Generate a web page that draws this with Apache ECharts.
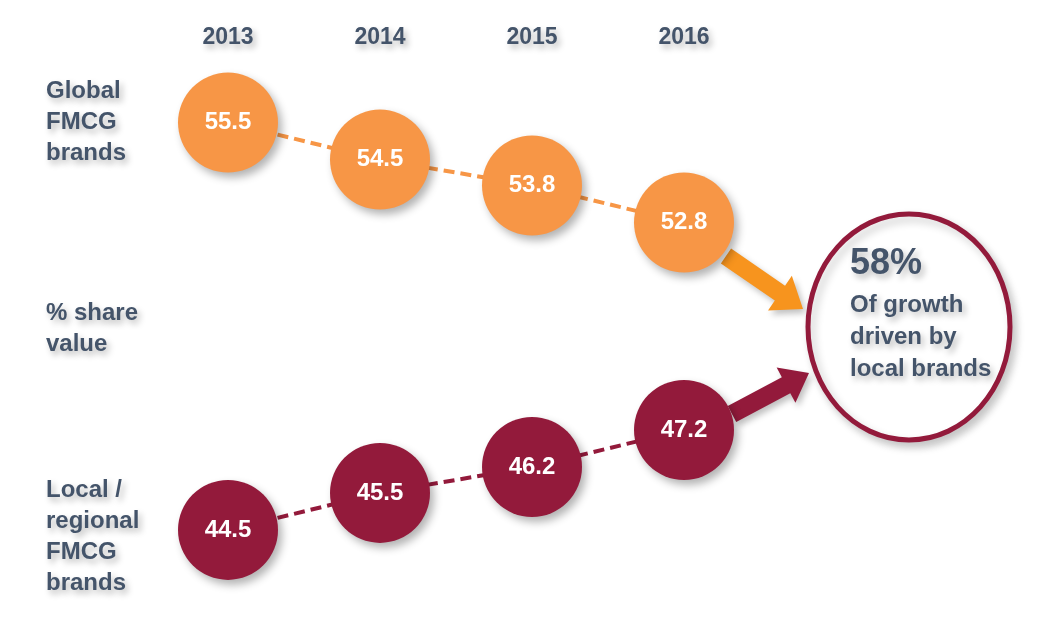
<!DOCTYPE html>
<html>
<head>
<meta charset="utf-8">
<style>
  html, body { margin: 0; padding: 0; background: #fff; }
  #chart { width: 1047px; height: 639px; }
</style>
<script src="https://cdn.jsdelivr.net/npm/echarts@6/dist/echarts.min.js"></script>
</head>
<body>
<div id="chart"></div>
<script>
const years = ["2013", "2014", "2015", "2016"];
const globalShare = [55.5, 54.5, 53.8, 52.8];
const localShare = [44.5, 45.5, 46.2, 47.2];
const growthShare = "58%";

const textColor = "#44546A";
const orange = "#F79646";
const maroon = "#931A3B";
const font = "'Liberation Sans', Arial, sans-serif";

const textShadow = {
  textShadowColor: "rgba(0,0,0,0.28)",
  textShadowBlur: 6,
  textShadowOffsetX: 3,
  textShadowOffsetY: 4,
};

// arrow polygon from start to tip
const arrow = (x0, y0, x1, y1, shaft, headW, headL) => {
  const dx = x1 - x0, dy = y1 - y0;
  const len = Math.sqrt(dx * dx + dy * dy);
  const ux = dx / len, uy = dy / len;
  const px = -uy, py = ux;
  const bx = x1 - ux * headL, by = y1 - uy * headL;
  return [
    [x0 + px * shaft / 2, y0 + py * shaft / 2],
    [bx + px * shaft / 2, by + py * shaft / 2],
    [bx + px * headW / 2, by + py * headW / 2],
    [x1, y1],
    [bx - px * headW / 2, by - py * headW / 2],
    [bx - px * shaft / 2, by - py * shaft / 2],
    [x0 - px * shaft / 2, y0 - py * shaft / 2],
  ];
};

const myEcharts = echarts.init(document.getElementById("chart"));

const sideText = (text, top) => ({
  type: "text",
  left: 46,
  top: top,
  z: 10,
  style: Object.assign({
    text: text,
    font: "bold 24px " + font,
    fill: textColor,
    lineHeight: 31,
  }, textShadow),
});

const circleSeries = (name, values, color) => ({
  name: name,
  type: "line",
  data: values,
  symbol: "circle",
  symbolSize: 100,
  lineStyle: {
    color: color,
    width: 4,
    type: [11, 6],
  },
  itemStyle: {
    color: color,
    shadowColor: "rgba(0,0,0,0.3)",
    shadowBlur: 8,
    shadowOffsetX: 4,
    shadowOffsetY: 5,
  },
  label: {
    show: true,
    position: "inside",
    color: "#fff",
    fontFamily: font,
    fontWeight: "bold",
    fontSize: 24,
    formatter: (p) => p.value.toFixed(1),
  },
  emphasis: { disabled: true },
  animation: false,
});

const option = {
  backgroundColor: "#fff",
  grid: {
    top: 30,
    bottom: 16.5,
    left: 152,
    right: 287,
  },
  xAxis: {
    type: "category",
    data: years,
    position: "top",
    offset: -27,
    axisLine: { show: false },
    axisTick: { show: false },
    splitLine: { show: false },
    axisLabel: Object.assign({
      color: textColor,
      fontFamily: font,
      fontWeight: "bold",
      fontSize: 23,
    }, textShadow),
  },
  yAxis: {
    type: "value",
    min: 42,
    max: 58,
    show: false,
  },
  series: [
    circleSeries("Global FMCG brands", globalShare, orange),
    circleSeries("Local / regional FMCG brands", localShare, maroon),
  ],
  graphic: [
    sideText("Global\nFMCG\nbrands", 76),
    sideText("% share\nvalue", 298),
    sideText("Local /\nregional\nFMCG\nbrands", 475),
    {
      type: "polygon",
      z: 1,
      shape: { points: arrow(726, 256, 803, 309, 18, 42, 28) },
      style: {
        fill: "#F7941E",
        shadowColor: "rgba(0,0,0,0.25)",
        shadowBlur: 6,
        shadowOffsetX: 3,
        shadowOffsetY: 4,
      },
    },
    {
      type: "polygon",
      z: 1,
      shape: { points: arrow(732, 414, 809, 373, 18, 40, 26) },
      style: {
        fill: maroon,
        shadowColor: "rgba(0,0,0,0.25)",
        shadowBlur: 6,
        shadowOffsetX: 3,
        shadowOffsetY: 4,
      },
    },
    {
      type: "ellipse",
      z: 2,
      shape: { cx: 909, cy: 327, rx: 101, ry: 113 },
      style: {
        fill: "#fff",
        stroke: maroon,
        lineWidth: 5,
        shadowColor: "rgba(0,0,0,0.2)",
        shadowBlur: 8,
        shadowOffsetX: 4,
        shadowOffsetY: 5,
      },
    },
    {
      type: "text",
      left: 850,
      top: 244,
      z: 10,
      style: Object.assign({
        text: growthShare,
        font: "bold 36px " + font,
        fill: textColor,
        lineHeight: 40,
      }, textShadow),
    },
    {
      type: "text",
      left: 850,
      top: 289,
      z: 10,
      style: Object.assign({
        text: "Of growth\ndriven by\nlocal brands",
        font: "bold 24px " + font,
        fill: textColor,
        lineHeight: 32,
      }, textShadow),
    },
  ],
};

myEcharts.setOption(option);
</script>
</body>
</html>
